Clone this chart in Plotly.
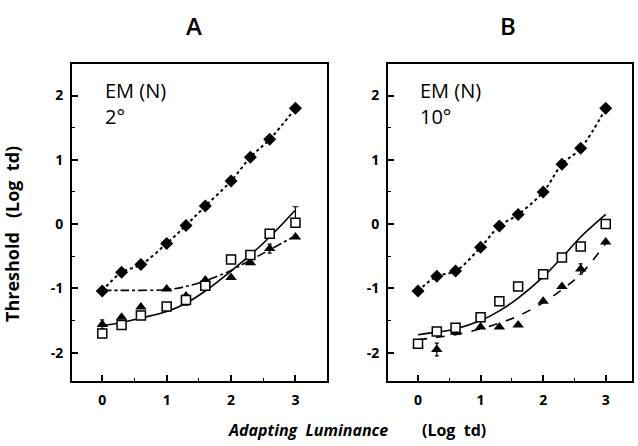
import plotly.graph_objects as go

# ---------------- data ----------------
lum = [0, 0.3, 0.6, 1.0, 1.3, 1.6, 2.0, 2.3, 2.6, 3.0]

# Panel A : EM (N) 2 deg
a_diamond = [-1.04, -0.75, -0.63, -0.30, -0.02, 0.28, 0.67, 1.04, 1.32, 1.80]
a_square = [-1.70, -1.57, -1.42, -1.28, -1.18, -0.96, -0.55, -0.48, -0.15, 0.02]
a_square_err_up = [0, 0, 0, 0, 0, 0, 0, 0, 0, 0.25]
a_square_err_dn = [0, 0, 0, 0, 0.08, 0, 0, 0, 0, 0]
a_triangle = [-1.56, -1.45, -1.29, -1.01, -1.12, -0.87, -0.83, -0.60, -0.38, -0.20]
a_triangle_err = [0.07, 0, 0, 0, 0, 0, 0, 0, 0.07, 0]
a_fit_solid = [-1.58, -1.53, -1.46, -1.36, -1.23, -1.04, -0.73, -0.48, -0.20, 0.22]
a_fit_dashdot = [-1.03, -1.03, -1.03, -1.02, -0.97, -0.88, -0.72, -0.56, -0.40, -0.18]

# Panel B : EM (N) 10 deg
b_diamond = [-1.04, -0.81, -0.73, -0.36, -0.03, 0.15, 0.50, 0.93, 1.18, 1.80]
b_square = [-1.86, -1.67, -1.61, -1.45, -1.20, -0.97, -0.78, -0.52, -0.35, 0.00]
b_triangle = [-1.88, -1.95, -1.68, -1.60, -1.60, -1.57, -1.20, -0.97, -0.70, -0.28]
b_triangle_err = [0, 0.1, 0, 0, 0, 0, 0, 0, 0.08, 0]
b_fit_solid = [-1.72, -1.68, -1.63, -1.50, -1.35, -1.15, -0.82, -0.52, -0.20, 0.15]
b_fit_dash = [-1.80, -1.76, -1.72, -1.63, -1.54, -1.43, -1.22, -1.02, -0.78, -0.30]

y_ticks = [-2, -1, 0, 1, 2]
y_ticktext = ["-2", "-1", "0", "1", "2"]
x_ticks = [0, 1, 2, 3]
x_ticktext = ["0", "1", "2", "3"]

panel_titles = ["A", "B"]
panel_labels = ["EM (N)<br>2°", "EM (N)<br>10°"]
y_title = "Threshold\u00a0\u00a0\u00a0(Log\u00a0\u00a0td)"
x_title_1 = "Adapting\u00a0\u00a0Luminance"
x_title_2 = "(Log\u00a0\u00a0td)"

FONT = "Open Sans"
fig = go.Figure()


def add_panel(xa, ya, diamond, square, triangle, fit_solid, fit_dash, dash_style,
              sq_up=None, sq_dn=None, tri_err=None):
    common = dict(xaxis=xa, yaxis=ya, showlegend=False, hoverinfo="skip")
    fig.add_trace(go.Scatter(x=lum, y=diamond, mode="lines", line=dict(color="black", width=2, dash="dot", shape="spline"), **common))
    fig.add_trace(go.Scatter(x=lum, y=fit_dash, mode="lines", line=dict(color="black", width=1.6, dash=dash_style, shape="spline"), **common))
    fig.add_trace(go.Scatter(x=lum, y=fit_solid, mode="lines", line=dict(color="black", width=1.6, shape="spline"), **common))
    fig.add_trace(go.Scatter(x=lum, y=diamond, mode="markers",
                             marker=dict(symbol="diamond", size=10, color="black"), **common))
    tri_kw = {}
    if tri_err is not None:
        tri_kw["error_y"] = dict(type="data", array=tri_err, color="black", thickness=1.2, width=2)
    fig.add_trace(go.Scatter(x=lum, y=triangle, mode="markers",
                             marker=dict(symbol="triangle-up", size=10, color="black"), **tri_kw, **common))
    sq_kw = {}
    if sq_up is not None:
        sq_kw["error_y"] = dict(type="data", symmetric=False, array=sq_up, arrayminus=sq_dn,
                                color="black", thickness=1.2, width=3)
    fig.add_trace(go.Scatter(x=lum, y=square, mode="markers",
                             marker=dict(symbol="square", size=9, color="white",
                                         line=dict(color="black", width=1.5)), **sq_kw, **common))


add_panel("x", "y", a_diamond, a_square, a_triangle, a_fit_solid, a_fit_dashdot, "dashdot",
          a_square_err_up, a_square_err_dn, a_triangle_err)
add_panel("x2", "y2", b_diamond, b_square, b_triangle, b_fit_solid, b_fit_dash, "dash",
          None, None, b_triangle_err)

W, H = 638, 446
top_px, bot_px = 64, 381
ydom = [1 - bot_px / H, 1 - top_px / H]

axis_common = dict(
    showline=True, linecolor="black", linewidth=2, mirror=True,
    ticks="inside", ticklen=6, tickwidth=1.5, tickcolor="black",
    showgrid=False, zeroline=False,
    tickfont=dict(family=FONT, size=14, color="black", weight="bold"),
    minor=dict(ticks="inside", ticklen=3, tickwidth=1.2, tickcolor="black", dtick=0.5, showgrid=False),
)

fig.update_layout(
    width=W, height=H,
    margin=dict(l=0, r=0, t=0, b=0),
    paper_bgcolor="white", plot_bgcolor="white",
    xaxis=dict(domain=[72 / W, 327 / W], range=[-0.47, 3.49], anchor="y",
               tickvals=x_ticks, ticktext=x_ticktext, ticklabelstandoff=5, **axis_common),
    yaxis=dict(domain=ydom, range=[-2.44, 2.49], anchor="x",
               tickvals=y_ticks, ticktext=y_ticktext, ticklabelstandoff=4, **axis_common),
    xaxis2=dict(domain=[388 / W, 632 / W], range=[-0.48, 3.42], anchor="y2",
                tickvals=x_ticks, ticktext=x_ticktext, ticklabelstandoff=5, **axis_common),
    yaxis2=dict(domain=ydom, range=[-2.44, 2.49], anchor="x2",
                tickvals=y_ticks, ticktext=y_ticktext, ticklabelstandoff=4, **axis_common),
)

annots = []
for title, xc in zip(panel_titles, [194, 508]):
    annots.append(dict(text=title, x=xc / W, y=1 - 26 / H, xref="paper", yref="paper",
                       showarrow=False, xanchor="center", yanchor="middle",
                       font=dict(family=FONT, size=24, color="black", weight=600)))
for lab, xl in zip(panel_labels, [103, 418]):
    annots.append(dict(text=lab, x=xl / W, y=1 - 75 / H, xref="paper", yref="paper",
                       showarrow=False, xanchor="left", yanchor="top", align="left",
                       font=dict(family=FONT, size=20, color="black", weight=500)))
annots.append(dict(text=y_title, x=12 / W, y=1 - 234 / H, xref="paper", yref="paper",
                   showarrow=False, textangle=-90, xanchor="center", yanchor="middle",
                   font=dict(family=FONT, size=18, color="black", weight="bold")))
annots.append(dict(text=x_title_1, x=308 / W, y=1 - 430 / H, xref="paper", yref="paper",
                   showarrow=False, xanchor="center", yanchor="middle",
                   font=dict(family=FONT, size=16, color="black", style="italic", weight="bold")))
annots.append(dict(text=x_title_2, x=454 / W, y=1 - 430 / H, xref="paper", yref="paper",
                   showarrow=False, xanchor="center", yanchor="middle",
                   font=dict(family=FONT, size=16, color="black", weight="bold")))
fig.update_layout(annotations=annots)

fig.write_html("out.html")
